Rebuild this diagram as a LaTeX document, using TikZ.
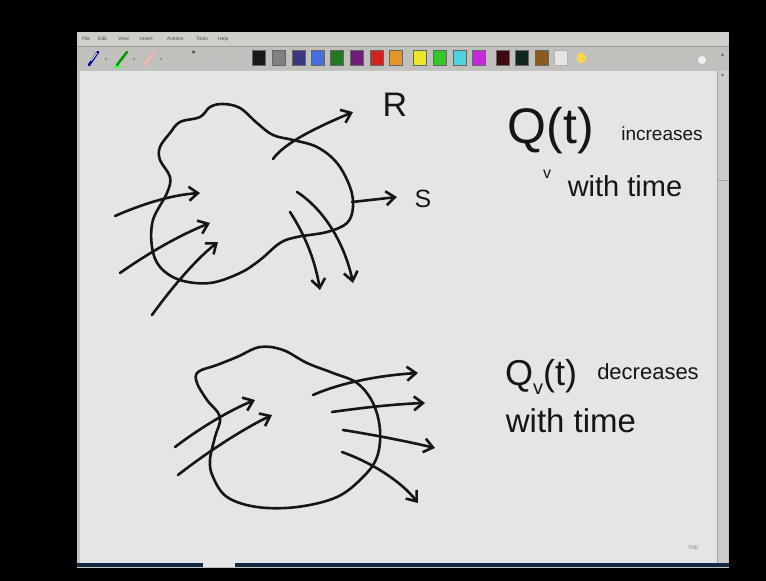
\documentclass[tikz,border=0pt]{standalone}
\usepackage{fontspec}
\setmainfont{Liberation Sans}
\usetikzlibrary{arrows.meta}
\definecolor{inkc}{RGB}{22,22,24}
\definecolor{winbg}{RGB}{196,196,192}
\definecolor{menubg}{RGB}{206,206,202}
\definecolor{toolbg}{RGB}{192,192,188}
\definecolor{canvasc}{RGB}{227,229,231}
\definecolor{scrollc}{RGB}{205,206,204}
\definecolor{barblue}{RGB}{20,40,70}
\begin{document}
\begin{tikzpicture}[x=1pt,y=-1pt,
  inkline/.style={draw=inkc, line width=2.6pt, line cap=round, line join=round},
  arr/.style={inkline, -{Straight Barb[length=9pt,width=14pt]}},
  swatch/.style={minimum width=13pt, minimum height=15pt, inner sep=0pt, draw=black!60, line width=0.4pt},
  menutxt/.style={font=\fontsize{5}{5}\selectfont, text=black!70, inner sep=0pt},
  hand/.style={text=inkc, inner sep=0pt}]
\useasboundingbox (0,0) rectangle (766,581);
% frame
\fill[black] (0,0) rectangle (766,581);
\fill[winbg] (77,32) rectangle (729,568);
\fill[menubg] (77,32) rectangle (729,46);
\fill[toolbg] (77,47) rectangle (729,70);
\draw[black!40, line width=0.6pt] (77,46.5) -- (729,46.5);
\fill[canvasc] (80,71) rectangle (717,563);
\fill[scrollc] (717,71) rectangle (728,563);
\draw[black!35, line width=0.5pt] (717,71) -- (717,563);
\draw[black!35, line width=0.5pt] (717,180) -- (728,180);
\fill[black!60] (722.5,75) circle (1.3pt);
\fill[black!60] (722.5,55) circle (1.3pt);
\fill[barblue] (77,563) rectangle (729,567);
\fill[canvasc] (203,560) rectangle (235,567);
% menu
\node[menutxt, anchor=west] (mfile) at (82,39) {File};
\node[menutxt, anchor=west] (medit) at (98,39) {Edit};
\node[menutxt, anchor=west] (mview) at (118,39) {View};
\node[menutxt, anchor=west] (mins) at (140,39) {Insert};
\node[menutxt, anchor=west] (mact) at (167,39) {Actions};
\node[menutxt, anchor=west] (mtools) at (196,39) {Tools};
\node[menutxt, anchor=west] (mhelp) at (218,39) {Help};
% pen tools
\draw[blue!60!black, line width=2.5pt, line cap=round] (89,65) -- (98,52);
\draw[white, line width=0.8pt] (91,61) -- (97,53);
\draw[green!60!black, line width=2.5pt, line cap=round] (117,65) -- (127,52);
\draw[green!70, line width=1.2pt] (114,67) -- (122,67);
\draw[red!30, line width=2.5pt, line cap=round] (144,65) -- (154,52);
\fill[black!60] (106,59) circle (0.9pt);
\fill[black!60] (134,59) circle (0.9pt);
\fill[black!60] (161,59) circle (0.9pt);
\fill[black!70] (191.5,51) -- (195.5,51) -- (193.5,54) -- cycle;
\node[font=\fontsize{16}{16}\selectfont\bfseries, text=black!25, inner sep=0pt] (bbtn) at (216,58) {B};
\node[font=\fontsize{16}{16}\selectfont\itshape, text=black!25, inner sep=0pt] (ibtn) at (236,58) {/};
% colour swatches
\node[swatch, fill=black!90] (c1) at (258.5,58) {};
\node[swatch, fill=black!50] (c2) at (278.5,58) {};
\node[swatch, fill={rgb,255:red,60;green,55;blue,130}] (c3) at (298.5,58) {};
\node[swatch, fill={rgb,255:red,70;green,110;blue,220}] (c4) at (317.5,58) {};
\node[swatch, fill={rgb,255:red,35;green,120;blue,35}] (c5) at (336.5,58) {};
\node[swatch, fill={rgb,255:red,110;green,30;blue,120}] (c6) at (356.5,58) {};
\node[swatch, fill={rgb,255:red,210;green,35;blue,30}] (c7) at (376.5,58) {};
\node[swatch, fill={rgb,255:red,230;green,150;blue,40}] (c8) at (395.5,58) {};
\node[swatch, fill={rgb,255:red,235;green,230;blue,40}] (c9) at (420,58) {};
\node[swatch, fill={rgb,255:red,50;green,200;blue,40}] (c10) at (440,58) {};
\node[swatch, fill={rgb,255:red,80;green,210;blue,220}] (c11) at (460,58) {};
\node[swatch, fill={rgb,255:red,200;green,40;blue,220}] (c12) at (478.5,58) {};
\node[swatch, fill={rgb,255:red,60;green,10;blue,15}] (c13) at (502.5,58) {};
\node[swatch, fill={rgb,255:red,15;green,40;blue,30}] (c14) at (521.5,58) {};
\node[swatch, fill={rgb,255:red,140;green,90;blue,30}] (c15) at (541.5,58) {};
\node[swatch, fill=white!90!black, draw=black!30] (c16) at (561,58) {};
\fill[yellow!60!orange!70] (581.5,58) circle (5pt);
\fill[white!90!gray] (702,60) circle (4pt);
% page number
\node[font=\fontsize{5}{5}\selectfont, text=black!55, inner sep=0pt] (pg) at (693,548) {7/30};
% ---------------- top figure ----------------
\draw[inkline] plot[smooth cycle, tension=0.6] coordinates {
 (180,122) (200,117) (210,107) (223,104) (240,108) (257,123) (273,135) (293,140)
 (317,147) (337,163) (350,187) (353,207) (347,223) (327,232) (297,237) (280,243)
 (260,260) (240,273) (210,283) (180,280) (160,267) (152,247) (153,220) (167,193)
 (170,177) (160,160) (160,147) (170,133)};
\draw[arr] (273,159) .. controls (285,142) and (320,126) .. (353,112);
\draw[arr] (352,202) -- (397,197);
\draw[arr] (115,216) .. controls (140,205) and (170,195) .. (200,193);
\draw[arr] (120,273) .. controls (150,252) and (180,235) .. (210,223);
\draw[arr] (152,315) .. controls (170,290) and (195,260) .. (218,242);
\draw[arr] (290,212) .. controls (305,235) and (315,260) .. (320,290);
\draw[arr] (297,192) .. controls (325,210) and (345,245) .. (353,283);
\node[hand, font=\fontsize{34}{34}\selectfont] (R) at (395,105) {R};
\node[hand, font=\fontsize{25}{25}\selectfont] (S) at (423,199) {S};
\node[hand, font=\fontsize{50}{50}\selectfont] (Qt) at (551,131) {Q(t)};
\node[hand, font=\fontsize{19}{19}\selectfont] (incr) at (662,134) {increases};
\node[hand, font=\fontsize{16}{16}\selectfont] (vsub) at (547,174) {v};
\node[hand, font=\fontsize{29}{29}\selectfont] (wt1) at (625,186) {with time};
% ---------------- bottom figure ----------------
\draw[inkline] plot[smooth cycle, tension=0.6] coordinates {
 (198,372) (217,365) (237,357) (260,347) (283,350) (307,363) (333,373) (357,383)
 (373,403) (380,430) (377,457) (363,477) (337,497) (297,507) (257,507) (227,497)
 (213,477) (210,460) (215,437) (220,417) (207,400) (197,383)};
\draw[arr] (175,447) .. controls (200,428) and (230,410) .. (255,400);
\draw[arr] (178,475) .. controls (210,450) and (245,428) .. (272,415);
\draw[arr] (313,395) .. controls (345,381) and (385,375) .. (418,373);
\draw[arr] (332,412) .. controls (360,408) and (395,404) .. (425,403);
\draw[arr] (343,430) .. controls (375,435) and (410,442) .. (435,448);
\draw[arr] (342,452) .. controls (370,462) and (400,480) .. (418,503);
\node[hand, font=\fontsize{36}{36}\selectfont] (Qv) at (541,377) {Q\raisebox{-0.25em}{\fontsize{20}{20}\selectfont v}(t)};
\node[hand, font=\fontsize{22}{22}\selectfont] (decr) at (648,372) {decreases};
\node[hand, font=\fontsize{33}{33}\selectfont] (wt2) at (571,421) {with time};
\end{tikzpicture}
\end{document}
